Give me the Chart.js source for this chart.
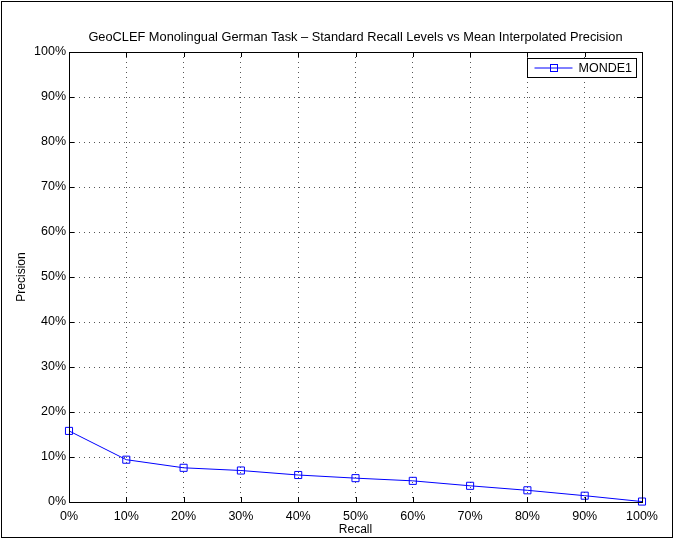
<!DOCTYPE html>
<html>
<head>
<meta charset="utf-8">
<script src="https://cdn.jsdelivr.net/npm/chart.js@4/dist/chart.umd.min.js"></script>
<style>
  html, body { margin: 0; padding: 0; background: #fff; }
  #wrap { width: 676px; height: 541px; position: relative; }
</style>
</head>
<body>
<div id="wrap"><canvas id="c" width="676" height="541"></canvas></div>
<script>
// recall levels (%) and mean interpolated precision (%)
const recallLevels = [0, 10, 20, 30, 40, 50, 60, 70, 80, 90, 100];
const monde1 = [15.8, 9.4, 7.6, 7.0, 6.0, 5.3, 4.7, 3.6, 2.6, 1.4, 0.1];
const seriesName = 'MONDE1';
const titleText = 'GeoCLEF Monolingual German Task \u2013 Standard Recall Levels vs Mean Interpolated Precision';

const FONT = 'Arial, "Liberation Sans", Helvetica, sans-serif';

// MATLAB-like box: frame around figure, title over the axes, axes box,
// inward ticks, boxed legend
const matlabBox = {
    id: 'matlabBox',
    afterDraw(chart) {
        const ctx = chart.ctx;
        const a = chart.chartArea;
        const xs = chart.scales.x, ys = chart.scales.y;
        ctx.save();
        // figure frame
        ctx.strokeStyle = '#000';
        ctx.lineWidth = 1;
        ctx.strokeRect(1.5, 1.5, 671, 536);

        // title centred over the plot area
        ctx.fillStyle = '#000';
        ctx.font = '12.8px ' + FONT;
        ctx.textAlign = 'center';
        ctx.textBaseline = 'middle';
        ctx.fillText(titleText, (a.left + a.right) / 2, a.top - 15);

        // axes box
        ctx.strokeRect(Math.round(a.left) + 0.5, Math.round(a.top) + 0.5,
            Math.round(a.right - a.left), Math.round(a.bottom - a.top));
        // inward ticks
        const tl = 5;
        ctx.beginPath();
        xs.ticks.forEach(t => {
            const px = Math.round(xs.getPixelForValue(t.value)) + 0.5;
            ctx.moveTo(px, a.bottom); ctx.lineTo(px, a.bottom - tl);
            ctx.moveTo(px, a.top); ctx.lineTo(px, a.top + tl);
        });
        ys.ticks.forEach(t => {
            const py = Math.round(ys.getPixelForValue(t.value)) + 0.5;
            ctx.moveTo(a.left, py); ctx.lineTo(a.left + tl, py);
            ctx.moveTo(a.right, py); ctx.lineTo(a.right - tl, py);
        });
        ctx.stroke();

        // legend
        const ds = chart.data.datasets[0];
        const bx = 527.5, by = 58.5, bw = 109, bh = 19;
        ctx.fillStyle = '#fff';
        ctx.fillRect(bx, by, bw, bh);
        ctx.strokeStyle = '#000';
        ctx.strokeRect(bx, by, bw, bh);
        const cy = by + bh / 2;
        ctx.strokeStyle = ds.borderColor;
        ctx.beginPath();
        ctx.moveTo(bx + 7, cy); ctx.lineTo(bx + 45, cy);
        ctx.stroke();
        ctx.strokeRect(bx + 23, cy - 3.5, 7, 7);
        ctx.fillStyle = '#000';
        ctx.font = '12.5px ' + FONT;
        ctx.textAlign = 'left';
        ctx.fillText(ds.label, bx + 51, cy + 0.5);
        ctx.restore();
    }
};

const gridColor = ctx => (ctx.tick && (ctx.tick.value === 0 || ctx.tick.value === 100)) ? 'rgba(0,0,0,0)' : '#555';

new Chart(document.getElementById('c').getContext('2d'), {
    type: 'line',
    data: {
        datasets: [{
            label: seriesName,
            data: recallLevels.map((r, i) => ({ x: r, y: monde1[i] })),
            borderColor: '#0000ff',
            borderWidth: 1,
            pointStyle: 'rect',
            pointRadius: 5,
            pointBorderWidth: 1,
            pointBorderColor: '#0000ff',
            pointBackgroundColor: 'rgba(0,0,0,0)',
            tension: 0,
            fill: false,
            clip: false
        }]
    },
    options: {
        responsive: false,
        animation: false,
        layout: { padding: { left: 0, right: 34, top: 52, bottom: 0 } },
        plugins: {
            legend: { display: false },
            tooltip: { enabled: false },
            title: { display: false }
        },
        scales: {
            x: {
                type: 'linear',
                min: 0, max: 100,
                ticks: {
                    stepSize: 10,
                    color: '#000',
                    padding: 7,
                    maxRotation: 0,
                    font: { family: FONT, size: 12.5 },
                    callback: v => v + '%'
                },
                grid: { color: gridColor, lineWidth: 1, drawTicks: false },
                border: { display: false, dash: [1, 4] },
                title: {
                    display: true,
                    text: 'Recall',
                    color: '#000',
                    padding: { top: 0, bottom: 4 },
                    font: { family: FONT, size: 12 }
                },
                afterFit: s => { s.height = 39; }
            },
            y: {
                type: 'linear',
                min: 0, max: 100,
                ticks: {
                    stepSize: 10,
                    color: '#000',
                    padding: 3,
                    font: { family: FONT, size: 12.5 },
                    callback: v => v + '%'
                },
                grid: { color: gridColor, lineWidth: 1, drawTicks: false },
                border: { display: false, dash: [1, 4] },
                title: {
                    display: true,
                    text: 'Precision',
                    color: '#000',
                    padding: { top: 14, bottom: 0 },
                    font: { family: FONT, size: 12 }
                },
                afterFit: s => { s.width = 69; }
            }
        }
    },
    plugins: [matlabBox]
});
</script>
</body>
</html>
